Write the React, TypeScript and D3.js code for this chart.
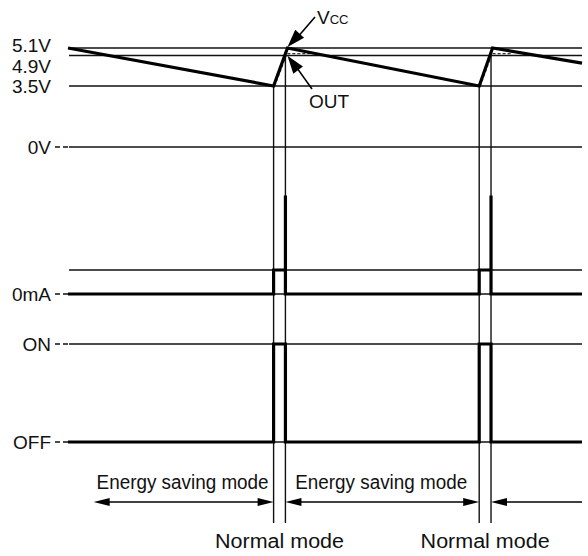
import React from "react";
import * as d3 from "d3";

const W = 588;
const H = 556;

// Voltage panel
const voltLevels = [5.1, 4.9, 3.5, 0];
const voltLabels = ["5.1V", "4.9V", "3.5V", "0V"];
const vccTime = [0, 40, 42.7, 80, 82.6, 100];
const vccVolt = [5.1, 3.5, 5.1, 3.5, 5.1, 4.55];
const out1Time = [40.2, 42.6, 47];
const out1Volt = [3.5, 4.95, 4.95];
const out2Time = [80.2, 82.5, 86.5];
const out2Volt = [3.5, 4.95, 4.95];

// Normal-mode windows
const normalStart = [40, 80];
const normalEnd = [42.3, 82.3];

// Current panel
const curLevels = [0, 1];
const curLabels = ["0mA", ""];
const curTime = [0, 40, 40, 42.3, 42.3, 42.3, 80, 80, 82.3, 82.3, 82.3, 100];
const curVal = [0, 0, 1, 1, 4.1, 0, 0, 1, 1, 4.1, 0, 0];

// Switch panel
const swLevels = [1, 0];
const swLabels = ["ON", "OFF"];
const swTime = [0, 40, 40, 42.3, 42.3, 80, 80, 82.3, 82.3, 100];
const swVal = [0, 0, 1, 1, 0, 0, 1, 1, 0, 0];

// Mode arrows
const modeStart = [5, 42.3, 82.3];
const modeEnd = [40, 80, 100];
const modeStartHead = [true, true, true];
const modeEndHead = [true, true, false];
const energyLabel = "Energy saving mode";
const normalLabel = "Normal mode";

const FONT = "'Liberation Sans', Arial, Helvetica, sans-serif";

function head(tipX: number, tipY: number, fromX: number, fromY: number, len: number, half: number) {
  const dx = tipX - fromX;
  const dy = tipY - fromY;
  const d = Math.hypot(dx, dy);
  const ux = dx / d, uy = dy / d;
  const bx = tipX - ux * len, by = tipY - uy * len;
  const px = -uy, py = ux;
  return `${tipX},${tipY} ${bx + px * half},${by + py * half} ${bx - px * half},${by - py * half}`;
}

export default function App() {
  const x = d3.scaleLinear().domain([0, 100]).range([68, 582]);
  const yV = d3.scaleLinear().domain([0, 3.5, 4.9, 5.1]).range([147, 86, 55.5, 48]);
  const yI = d3.scaleLinear().domain([0, 1]).range([294, 270]);
  const yS = d3.scaleLinear().domain([0, 1]).range([442, 344]);

  const xL = x(0) + 1;
  const xR = x(100);

  const vccPath = d3.line<number>().x((_, i) => x(vccTime[i])).y((d) => yV(d))(vccVolt) || "";
  const out1 = d3.line<number>().x((_, i) => x(out1Time[i])).y((d) => yV(d))(out1Volt) || "";
  const out2 = d3.line<number>().x((_, i) => x(out2Time[i])).y((d) => yV(d))(out2Volt) || "";
  const curPath = d3.line<number>().x((_, i) => x(curTime[i])).y((d) => yI(d))(curVal) || "";
  const swPath = d3.line<number>().x((_, i) => x(swTime[i])).y((d) => yS(d))(swVal) || "";

  const voltLabelNudge = [-3, 10.5, 0, 0];
  const leaderLabels = new Set(["0V", "0mA", "ON", "OFF"]);
  const arrowY = 502;
  const vBottom = 523;

  const labelEl = (txt: string, y: number, key: string) => (
    <g key={key}>
      <text x={51} y={y} textAnchor="end" dominantBaseline="central" fontSize={19} fontFamily={FONT} fill="#111">
        {txt}
      </text>
      {leaderLabels.has(txt) && (
        <line x1={55} x2={xL} y1={y} y2={y} stroke="#111" strokeWidth={1.3} strokeDasharray="5,3" />
      )}
    </g>
  );

  const vccTipX = x(42.7);
  const vccTipY = yV(5.1) - 1;
  const outTipX = x(42.6) + 0.5;
  const outTipY = yV(4.95) + 2;

  return (
    <svg width={W} height={H} style={{ position: "absolute", left: 0, top: 0, background: "#fff" }}>
      <rect x={0} y={0} width={W} height={H} fill="#fff" />
      {voltLevels.map((v, i) => (
        <g key={"vl" + i}>
          <line x1={xL} x2={xR} y1={yV(v)} y2={yV(v)} stroke="#111" strokeWidth={1.4} />
          {labelEl(voltLabels[i], yV(v) + voltLabelNudge[i], "vt" + i)}
        </g>
      ))}
      {curLevels.map((v, i) => (
        <g key={"cl" + i}>
          <line x1={xL} x2={xR} y1={yI(v)} y2={yI(v)} stroke="#111" strokeWidth={1.4} />
          {curLabels[i] && labelEl(curLabels[i], yI(v), "ct" + i)}
        </g>
      ))}
      {swLevels.map((v, i) => (
        <g key={"sl" + i}>
          <line x1={xL} x2={xR} y1={yS(v)} y2={yS(v)} stroke="#111" strokeWidth={1.4} />
          {labelEl(swLabels[i], yS(v), "st" + i)}
        </g>
      ))}
      {normalStart.map((t, i) => (
        <g key={"nm" + i}>
          <line x1={x(t)} x2={x(t)} y1={yV(3.5)} y2={vBottom} stroke="#111" strokeWidth={1.4} />
          <line x1={x(normalEnd[i])} x2={x(normalEnd[i])} y1={yV(5.0)} y2={vBottom} stroke="#111" strokeWidth={1.4} />
        </g>
      ))}
      <path d={out1} fill="none" stroke="#333" strokeWidth={1.3} strokeDasharray="3,2" />
      <path d={out2} fill="none" stroke="#333" strokeWidth={1.3} strokeDasharray="3,2" />
      <path d={vccPath} fill="none" stroke="#000" strokeWidth={3.2} strokeLinejoin="miter" />
      <path d={curPath} fill="none" stroke="#000" strokeWidth={3.2} strokeLinejoin="miter" />
      <path d={swPath} fill="none" stroke="#000" strokeWidth={3.2} strokeLinejoin="miter" />

      {/* Vcc callout */}
      <line x1={315} y1={17} x2={vccTipX + 6} y2={vccTipY - 5} stroke="#000" strokeWidth={1.6} />
      <polygon points={head(vccTipX, vccTipY, 315, 17, 18, 6)} fill="#000" />
      <text x={317} y={24} fontSize={19} fontFamily={FONT} fill="#111">
        V<tspan fontSize={13}>CC</tspan>
      </text>
      {/* OUT callout */}
      <line x1={312} y1={89} x2={outTipX + 5} y2={outTipY + 6} stroke="#000" strokeWidth={1.6} />
      <polygon points={head(outTipX, outTipY, 312, 89, 18, 6)} fill="#000" />
      <text x={309} y={108} fontSize={19} fontFamily={FONT} fill="#111">OUT</text>

      {modeStart.map((s, i) => {
        const x1 = x(s), x2 = x(modeEnd[i]);
        return (
          <g key={"ma" + i}>
            <line x1={x1 + (modeStartHead[i] ? 10 : 0)} x2={x2 - (modeEndHead[i] ? 10 : 0)} y1={arrowY} y2={arrowY} stroke="#000" strokeWidth={1.5} />
            {modeStartHead[i] && <polygon points={head(x1, arrowY, x1 + 10, arrowY, 16, 4)} fill="#000" />}
            {modeEndHead[i] && <polygon points={head(x2, arrowY, x2 - 10, arrowY, 16, 4)} fill="#000" />}
          </g>
        );
      })}
      {normalStart.map((t, i) => (
        <g key={"ml" + i}>
          <text x={x(t) - (i === 0 ? 5 : 12)} y={489} textAnchor="end" fontSize={19.5} fontFamily={FONT} fill="#111" textLength={172} lengthAdjust="spacingAndGlyphs">
            {energyLabel}
          </text>
          <text x={(x(t) + x(normalEnd[i])) / 2} y={548} textAnchor="middle" fontSize={19.5} fontFamily={FONT} fill="#111" textLength={129} lengthAdjust="spacingAndGlyphs">
            {normalLabel}
          </text>
        </g>
      ))}
    </svg>
  );
}
